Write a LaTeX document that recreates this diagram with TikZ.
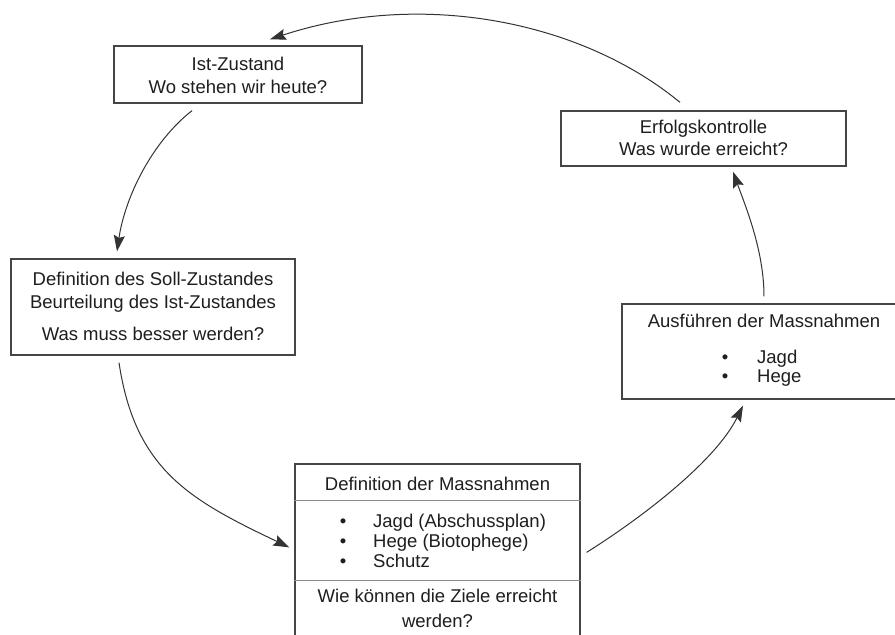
\documentclass[tikz,border=0pt]{standalone}
\usepackage{fontspec}
\setmainfont{Liberation Sans}
\usetikzlibrary{arrows.meta,calc}
\definecolor{ink}{HTML}{1E1E1E}
\definecolor{boxline}{HTML}{454545}
\definecolor{divline}{HTML}{8A8A8A}
\definecolor{arrowcol}{HTML}{333333}
\begin{document}
\begin{tikzpicture}[x=1pt,y=-1pt,
  box/.style={draw=boxline,line width=1.3pt,inner sep=0pt},
  divider/.style={draw=divline,line width=1.2pt},
  txt/.style={text=ink,font=\fontsize{18.5}{23}\selectfont,anchor=base,inner sep=0pt},
  txtl/.style={txt,anchor=base west},
  bul/.style={txt},
  conn/.style={draw=arrowcol,line width=1pt,-{Stealth[length=16pt,width=11pt,inset=2.5pt]}}]
\useasboundingbox[fill=white] (0,0) rectangle (895,635);

% boxes
\node[box,minimum width=248pt,minimum height=57pt] (ist) at (238,74.5) {};
\node[box,minimum width=284pt,minimum height=96pt] (soll) at (153,307) {};
\node[box,minimum width=285pt,minimum height=186pt] (mass) at (437.5,557) {};
\node[box,minimum width=285pt,minimum height=55pt] (erf) at (703.5,138.5) {};
\node[box,minimum width=278pt,minimum height=95pt] (aus) at (761,351.5) {};

\draw[divider] ($(mass.north west)+(0,37)$) -- ($(mass.north east)+(0,37)$);
\draw[divider] ($(mass.north west)+(0,117)$) -- ($(mass.north east)+(0,117)$);

% texts
\node[txt] (ist1) at (238,70) {Ist-Zustand};
\node[txt] (ist2) at (238,93) {Wo stehen wir heute?};

\node[txt] (soll1) at (153,285) {Definition des Soll-Zustandes};
\node[txt] (soll2) at (153,308) {Beurteilung des Ist-Zustandes};
\node[txt] (soll3) at (153,340) {Was muss besser werden?};

\node[txt] (mass1) at (437.5,490) {Definition der Massnahmen};
\node[bul] (mb1) at (343,527) {•};
\node[bul] (mb2) at (343,547) {•};
\node[bul] (mb3) at (343,567) {•};
\node[txtl] (mi1) at (373,527) {Jagd (Abschussplan)};
\node[txtl] (mi2) at (373,547) {Hege (Biotophege)};
\node[txtl] (mi3) at (373,567) {Schutz};
\node[txt] (mass2) at (437.5,602) {Wie können die Ziele erreicht};
\node[txt] (mass3) at (437.5,627) {werden?};

\node[txt] (erf1) at (703.5,133) {Erfolgskontrolle};
\node[txt] (erf2) at (703.5,155) {Was wurde erreicht?};

\node[txt] (aus1) at (764,327) {Ausführen der Massnahmen};
\node[bul] (ab1) at (725,363) {•};
\node[bul] (ab2) at (725,382) {•};
\node[txtl] (ai1) at (757,363) {Jagd};
\node[txtl] (ai2) at (757,382) {Hege};

% connectors
\draw[conn] ($(erf.north)+(-23.5,-8)$) .. controls (580,20) and (420,-10) .. ($(ist.north)+(32,-6)$);
\draw[conn] ($(ist.south)+(-46,7)$) .. controls (152,142) and (125,197) .. ($(soll.north)+(-36,-7)$);
\draw[conn] ($(soll.south)+(-34,7)$) .. controls (135,470) and (190,500) .. ($(mass.north west)+(-5,84)$);
\draw[conn] ($(mass.north east)+(6,89)$) .. controls (646,515) and (716,460) .. ($(aus.south)+(-18,6)$);
\draw[conn] ($(aus.north)+(3,-7)$) .. controls (764,250) and (745,205) .. ($(erf.south)+(29.5,5)$);
\end{tikzpicture}
\end{document}
